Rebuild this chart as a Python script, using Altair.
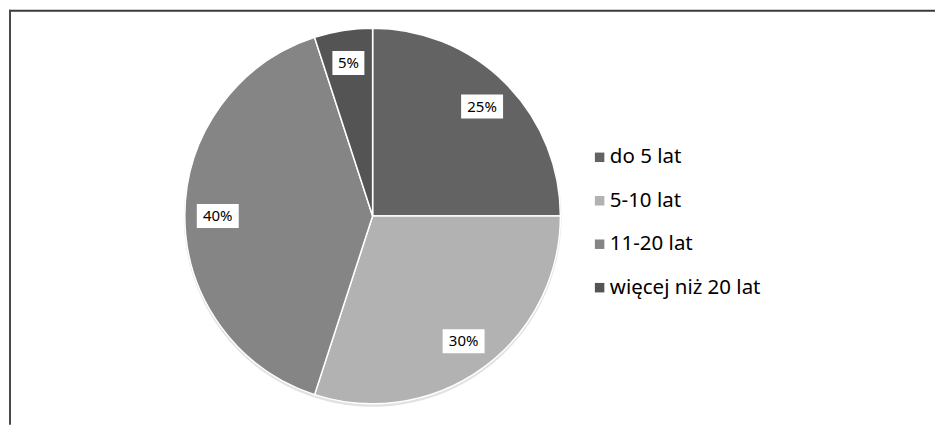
import altair as alt
import pandas as pd

categories = ["do 5 lat", "5-10 lat", "11-20 lat", "więcej niż 20 lat"]
shares = [25, 30, 40, 5]
labels = ["25%", "30%", "40%", "5%"]
palette = ["#636363", "#b2b2b2", "#858585", "#545454"]

df = pd.DataFrame({"kat": categories, "val": shares, "lab": labels, "idx": list(range(len(categories)))})
one = pd.DataFrame({"k": [0]})

W, H = 730, 416
R = 188
RL = 155
FONT = "Noto Sans"

base = alt.Chart(df)

color = alt.Color(
    "kat:N",
    scale=alt.Scale(domain=categories, range=palette),
    sort=categories,
    legend=alt.Legend(
        title=None, orient="none", legendX=582, legendY=139,
        symbolType="square", symbolSize=90, symbolStrokeWidth=0,
        labelFont=FONT, labelFontSize=20.5, labelColor="#000000",
        rowPadding=22.5, labelOffset=0,
    ),
)

shadow = base.mark_arc(outerRadius=R + 1, color="#e2e2e2", yOffset=2).encode(
    theta=alt.Theta("val:Q", stack=True),
    order=alt.Order("idx:Q"),
)

pie = base.mark_arc(outerRadius=R, stroke="white", strokeWidth=1.5).encode(
    theta=alt.Theta("val:Q", stack=True),
    order=alt.Order("idx:Q"),
    color=color,
)

pos = (
    base.transform_window(cum="sum(val)", sort=[alt.SortField("idx")], frame=[None, 0])
    .transform_joinaggregate(tot="sum(val)")
    .transform_calculate(a="2*PI*(datum.cum - datum.val/2)/datum.tot")
    .transform_calculate(
        cx=f"{RL}*sin(datum.a)",
        cy=f"{RL}*cos(datum.a)",
        hw="6 + 5*length(datum.lab)",
    )
    .transform_calculate(
        bx1="datum.cx - datum.hw", bx2="datum.cx + datum.hw",
        by1="datum.cy - 12", by2="datum.cy + 12",
    )
)
xs = alt.Scale(domain=[-W / 2, W / 2], nice=False, zero=False)
ys = alt.Scale(domain=[-H / 2, H / 2], nice=False, zero=False)

boxes = pos.mark_rect(fill="white").encode(
    x=alt.X("bx1:Q", scale=xs, axis=None), x2="bx2:Q",
    y=alt.Y("by1:Q", scale=ys, axis=None), y2="by2:Q",
)
texts = pos.mark_text(font=FONT, fontSize=15, color="#000000").encode(
    x=alt.X("cx:Q", scale=xs, axis=None),
    y=alt.Y("cy:Q", scale=ys, axis=None),
    text="lab:N",
)

border_top = alt.Chart(one).mark_rule(color="#3a3a3a", strokeWidth=2).encode(
    x=alt.value(1), x2=alt.value(928), y=alt.value(2.5)
)
border_left = alt.Chart(one).mark_rule(color="#4a4a4a", strokeWidth=2).encode(
    x=alt.value(2), y=alt.value(1.5), y2=alt.value(417)
)

chart = (
    alt.layer(shadow, pie, boxes, texts, border_top, border_left)
    .resolve_scale(color="independent")
    .properties(width=W, height=H, padding=0, background="white")
    .configure_view(stroke=None)
)

chart.save("out.html", embed_options={"renderer": "svg", "actions": False})
